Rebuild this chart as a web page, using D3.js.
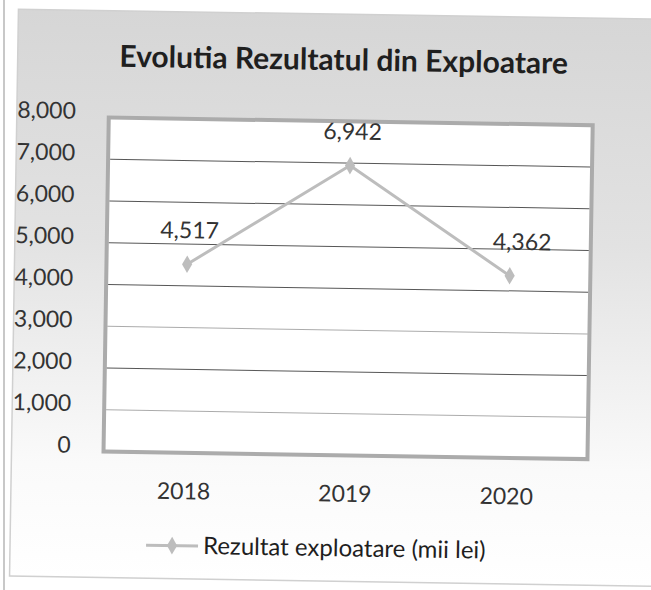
<!DOCTYPE html>
<html>
<head>
<meta charset="utf-8">
<script src="https://cdn.jsdelivr.net/npm/d3@7"></script>
<style>
  body { margin: 0; background: #fff; }
  text { font-family: Lato, "Open Sans", sans-serif; }
</style>
</head>
<body>
<svg id="chart" width="651" height="590"></svg>
<script>
// chart data
const years = ["2018", "2019", "2020"];
const values = [4517, 6942, 4362];
const yTicks = [0, 1000, 2000, 3000, 4000, 5000, 6000, 7000, 8000];
const title = "Evolutia Rezultatul din Exploatare";
const seriesName = "Rezultat exploatare (mii lei)";

const svg = d3.select("#chart");

// gradient for the chart background (scan looks grey at top, white at bottom)
const defs = svg.append("defs");
const grad = defs.append("linearGradient")
    .attr("id", "bg").attr("x1", 0).attr("y1", 0).attr("x2", 0).attr("y2", 1);
grad.append("stop").attr("offset", "0%").attr("stop-color", "#d6d6d6");
grad.append("stop").attr("offset", "40%").attr("stop-color", "#e2e2e2");
grad.append("stop").attr("offset", "80%").attr("stop-color", "#fafafa");
grad.append("stop").attr("offset", "100%").attr("stop-color", "#ffffff");

// thin line at the very left of the scan
svg.append("line")
    .attr("x1", 4).attr("x2", 4).attr("y1", 0).attr("y2", 590)
    .attr("stroke", "#c8c8c8").attr("stroke-width", 2);

// everything else is slightly rotated, like the scanned page
const g = svg.append("g").attr("transform", "rotate(0.9, 325, 295)");

g.append("rect")
    .attr("x", 14).attr("y", 14).attr("width", 660).attr("height", 567)
    .attr("fill", "url(#bg)")
    .attr("stroke", "#d0d0d0").attr("stroke-width", 1.5);

// plot area
const plot = { left: 106, right: 590, top: 121, bottom: 455 };

const x = d3.scaleBand()
    .domain(years)
    .range([plot.left, plot.right]);

const y = d3.scaleLinear()
    .domain([0, 8000])
    .range([plot.bottom, plot.top]);

g.append("rect")
    .attr("x", plot.left).attr("y", plot.top)
    .attr("width", plot.right - plot.left).attr("height", plot.bottom - plot.top)
    .attr("fill", "#fff")
    .attr("stroke", "#ababab").attr("stroke-width", 4);

// gridlines
g.append("g")
    .selectAll("line")
    .data(yTicks.filter(d => d > 0 && d < 8000))
    .join("line")
    .attr("x1", plot.left + 2).attr("x2", plot.right - 2)
    .attr("y1", d => y(d)).attr("y2", d => y(d))
    .attr("stroke", "#444").attr("stroke-width", 1)
    .attr("stroke-opacity", d => (d === 1000 || d === 3000) ? 0.45 : 0.9);

// y axis labels
const yAxis = d3.axisLeft(y)
    .tickValues(yTicks)
    .tickFormat(d3.format(","))
    .tickSize(0)
    .tickPadding(0);

g.append("g")
    .attr("transform", "translate(73,0)")
    .call(yAxis)
    .call(a => a.select(".domain").remove())
    .selectAll("text")
    .attr("font-size", 23)
    .attr("fill", "#333")
    .attr("dy", "0.05em")
    .style("font-family", "Lato, sans-serif");

// x axis labels
const xAxis = d3.axisBottom(x).tickSize(0).tickPadding(0);
g.append("g")
    .attr("transform", "translate(0," + (plot.bottom + 30) + ")")
    .call(xAxis)
    .call(a => a.select(".domain").remove())
    .selectAll("text")
    .attr("font-size", 23)
    .attr("fill", "#333")
    .style("font-family", "Lato, sans-serif");

// the series line
const cx = d => x(d) + x.bandwidth() / 2;
const line = d3.line()
    .x((d, i) => cx(years[i]))
    .y(d => y(d));

g.append("path")
    .datum(values)
    .attr("d", line)
    .attr("fill", "none")
    .attr("stroke", "#bdbdbd")
    .attr("stroke-width", 3);

const diamond = d3.symbol().type(d3.symbolDiamond).size(90);
g.append("g")
    .selectAll("path")
    .data(values)
    .join("path")
    .attr("d", diamond)
    .attr("transform", (d, i) => "translate(" + cx(years[i]) + "," + y(d) + ")")
    .attr("fill", "#bdbdbd");

// data labels
g.append("g")
    .selectAll("text")
    .data(values)
    .join("text")
    .attr("x", (d, i) => cx(years[i]) + (i === 2 ? 12 : 2))
    .attr("y", d => y(d) - 26)
    .attr("text-anchor", "middle")
    .attr("font-size", 23)
    .attr("fill", "#333")
    .text(d3.format(","));

// title
g.append("text")
    .attr("x", 340).attr("y", 70)
    .attr("text-anchor", "middle")
    .attr("font-size", 30)
    .attr("font-weight", "bold")
    .attr("fill", "#1f1f1f")
    .text(title);

// legend
const legend = g.append("g").attr("transform", "translate(150,548)");
legend.append("line")
    .attr("x1", 0).attr("x2", 52).attr("y1", 0).attr("y2", 0)
    .attr("stroke", "#bdbdbd").attr("stroke-width", 3);
legend.append("path")
    .attr("d", diamond)
    .attr("transform", "translate(26,0)")
    .attr("fill", "#bdbdbd");
legend.append("text")
    .attr("x", 57).attr("y", 8)
    .attr("font-size", 24)
    .attr("fill", "#1f1f1f")
    .text(seriesName);
</script>
</body>
</html>
